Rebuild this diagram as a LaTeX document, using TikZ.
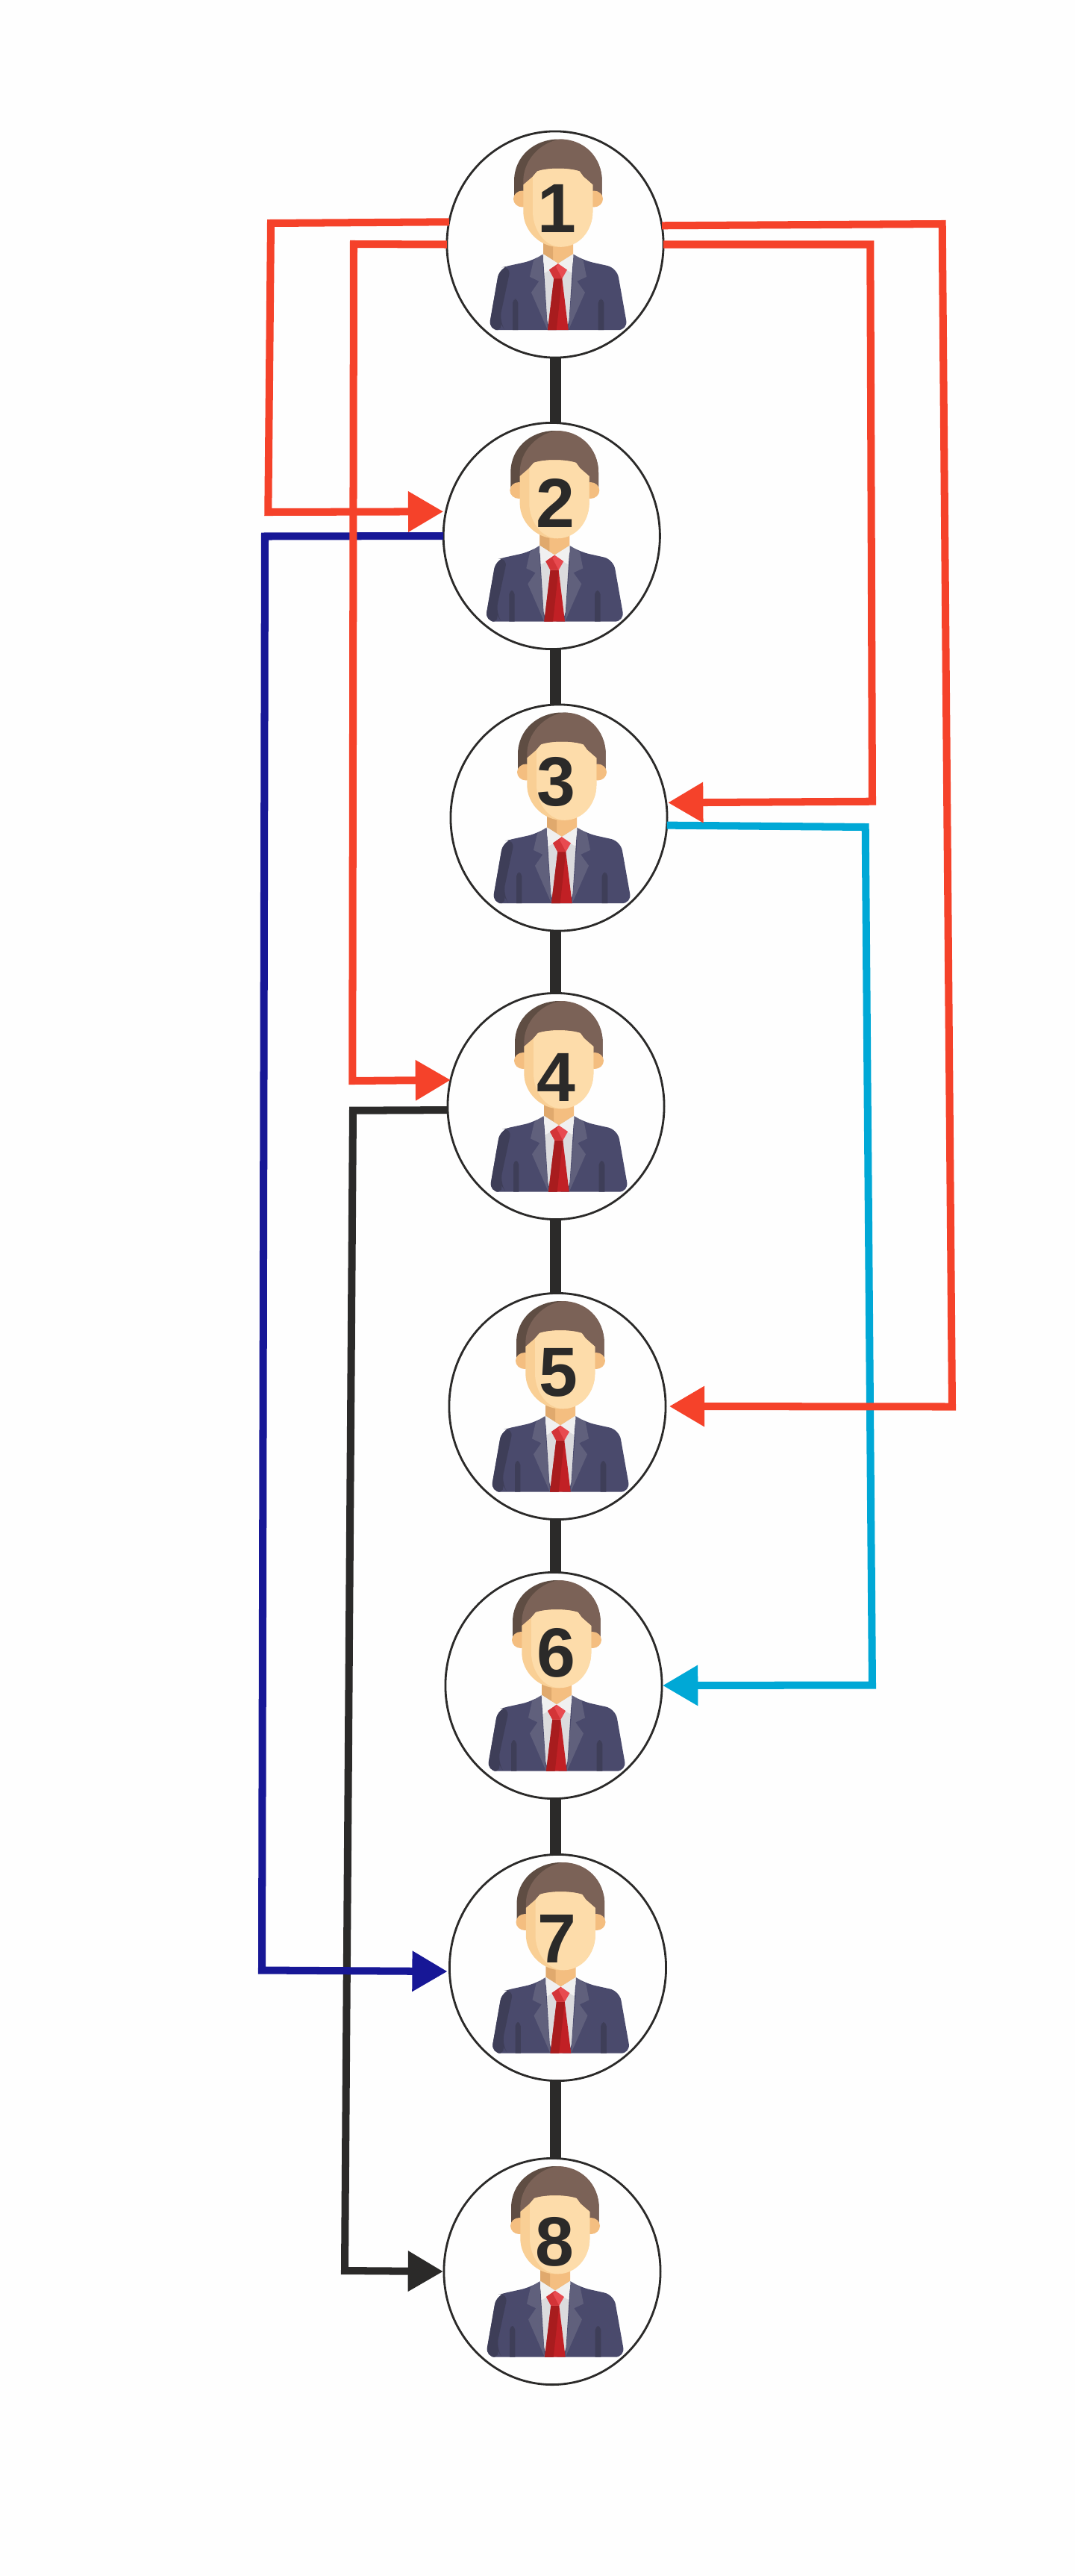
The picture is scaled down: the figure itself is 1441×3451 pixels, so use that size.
\documentclass[tikz,border=0pt]{standalone}
\usepackage{fontspec}
\setmainfont{Liberation Sans}
\usepackage{tikz}
\usetikzlibrary{arrows.meta, calc, shapes.geometric}
\definecolor{inkblack}{HTML}{2B2A29}
\definecolor{linkred}{HTML}{F5422A}
\definecolor{linknavy}{HTML}{171796}
\definecolor{linkcyan}{HTML}{00A8D6}
\definecolor{hairmain}{HTML}{7B6257}
\definecolor{hairdark}{HTML}{5F4D43}
\definecolor{skinmain}{HTML}{FDDCAA}
\definecolor{skinshade}{HTML}{F9CF95}
\definecolor{neckmain}{HTML}{F4BE80}
\definecolor{neckdark}{HTML}{E0A96D}
\definecolor{shirtmain}{HTML}{DBDBDD}
\definecolor{shirtlight}{HTML}{F0F0F0}
\definecolor{jacketmain}{HTML}{4A4A6C}
\definecolor{jacketdark}{HTML}{3E3E58}
\definecolor{lapelmain}{HTML}{60607C}
\definecolor{tiemain}{HTML}{C12025}
\definecolor{tiedark}{HTML}{A81C1E}
\definecolor{knotmain}{HTML}{E84A50}
\definecolor{knotdark}{HTML}{D33438}
\tikzset{
  member/.style={
    draw=inkblack,
    ellipse,
    line width=0.8pt,
    minimum width=2.9cm,
    minimum height=3.03cm,
    inner sep=0pt,
    outer sep=0pt
  },
  numeral/.style={
    inner sep=0pt,
    text=inkblack,
    font=\fontsize{26.5}{26.5}\selectfont\bfseries
  },
  spine/.style={
    draw=inkblack,
    line width=4.3pt
  },
  link/.style={
    line width=2.85pt,
    -{Triangle[length=13.4pt,width=14.8pt]}
  },
  redlink/.style={link, draw=linkred},
  navylink/.style={link, draw=linknavy},
  cyanlink/.style={link, draw=linkcyan},
  blacklink/.style={link, draw=inkblack},
  pics/person/.style={
    code={
      \fill[hairdark] (-55,-65) -- (-55,-85) .. controls (-55,-118) and (-28,-141) .. (4.3,-141)
        .. controls (36,-141) and (62.7,-118) .. (62.7,-85) -- (62.7,-65) -- cycle;
      \fill[hairmain] (-42.7,-65) -- (-42.7,-85) .. controls (-42.7,-113) and (-20,-137) .. (7,-141)
        .. controls (38,-141) and (62.7,-118) .. (62.7,-85) -- (62.7,-65) -- cycle;
      \fill[neckmain] (-44,-61) ellipse [x radius=12, y radius=11];
      \fill[neckmain] (52,-61) ellipse [x radius=12, y radius=11];
      \fill[neckmain] (-16,-5) -- (24,-5) -- (24,13) -- (4,25.7) -- (-16,13) -- cycle;
      \fill[neckdark] (-16,-5) -- (-3,-5) -- (-3,21) -- (-16,13) -- cycle;
      \fill[shirtmain] (-15.7,13) -- (4,25.7) -- (24,13) -- (24,39) -- (17.7,114.7) -- (-10,114.7) -- (-15.7,39) -- cycle;
      \fill[shirtlight] (-15.7,13) -- (4,25.7) -- (24,13) -- (24,39) -- (4,28) -- (-15.7,39) -- cycle;
      \fill[jacketmain, rounded corners=3.7pt] (-16.3,13) -- (-29,21.3) -- (-74.7,31.3) -- (-89.3,114.7)
        -- (97.5,114.7) -- (82.7,31.3) -- (37.7,21.3) -- (24.3,13) -- (17.7,114.7) -- (-10,114.7) -- cycle;
      \fill[jacketdark, rounded corners=3.7pt] (-59,28.3) -- (-74.7,31.3) -- (-89.3,114.7) -- (-67.3,114.7) -- (-75,103) -- cycle;
      \fill[jacketdark, rounded corners=1.5pt] (-57,114.7) -- (-57,73) -- (-49.7,73) [sharp corners] -- (-49.7,114.7) -- cycle;
      \fill[jacketdark, rounded corners=1.5pt] (57.7,114.7) -- (57.7,73) -- (65.3,73) [sharp corners] -- (65.3,114.7) -- cycle;
      \fill[lapelmain] (-16.3,13) -- (-29,21.3) -- (-34,43.3) -- (-21.7,49.3) -- (-32,64.3) -- (-10,114.7) -- (-15.7,39) -- cycle;
      \fill[lapelmain] (24.3,13) -- (37.7,21.3) -- (42,43.3) -- (29.3,49.3) -- (40,64.3) -- (17.7,114.7) -- (24,39) -- cycle;
      \fill[tiemain] (-1.7,45.7) -- (9.3,45.7) -- (17.7,114.7) -- (-10,114.7) -- cycle;
      \fill[tiedark] (-1.7,45.7) -- (9.3,45.7) -- (1.7,114.7) -- (-10,114.7) -- cycle;
      \fill[knotmain] (4,25.7) -- (16,34) -- (9.3,45.7) -- (-1.7,45.7) -- (-8,34) -- cycle;
      \fill[knotdark] (4,25.7) -- (-8,34) -- (-1.7,45.7) -- (9.3,45.7) -- (1,30) -- cycle;
      \fill[skinshade] (-42.7,-80) -- (-30,-91) -- (-24,-98) .. controls (-10,-103) and (18,-103) .. (32.7,-98)
        -- (37.7,-91) -- (50.3,-80) -- (50.3,-44) .. controls (50.3,-18) and (30,3.3) .. (4,3.3)
        .. controls (-20,3.3) and (-42.7,-18) .. (-42.7,-44) -- cycle;
      \fill[skinmain] (-30,-91) -- (-24,-98) .. controls (-10,-103) and (18,-103) .. (32.7,-98)
        -- (37.7,-91) -- (50.3,-80) -- (50.3,-44) .. controls (50.3,-18) and (32,3.3) .. (7.6,3.3)
        .. controls (-14,3) and (-30,-20) .. (-30,-44) -- cycle;
    }
  }
}
\begin{document}
\begin{tikzpicture}[x=0.01cm,y=-0.01cm]
  \fill[white!99.5!black] (0,0) rectangle (1441,3451);
  \useasboundingbox (0,0) rectangle (1441,3451);
  \coordinate (axis) at (744.5,0);

  \foreach \i/\cx/\cy/\dx/\dy in {
    1/744/327.5/2/-48.5, 2/739.3/718/5/-44, 3/749/1095.5/-4/-48,
    4/745/1482/0/-38.5, 5/747/1884/1/-45, 6/742/2258/3/-43.5,
    7/747.5/2636/-1.5/-39, 8/740/3043/3/-39.5} {
    \node[member] (p\i) at (\cx,\cy) {};
    \pic at (\cx,\cy) {person};
    \node[numeral] (n\i) at ($(p\i)+(\dx,\dy)$) {\i};
  }

  \foreach \a/\b in {1/2,2/3,3/4,4/5,5/6,6/7,7/8}
    \draw[spine] (axis |- p\a.south) -- (axis |- p\b.north);

  \draw[blacklink, shorten >=0.3pt] (p4.182.3) -- (473,1487.7) -- (462,3042) -- (p8.west);
  \draw[navylink, shorten >=0.85pt] (p2.west) -- (355,718.5) -- (351,2639.5) -- (p7.182);
  \draw[cyanlink, shorten >=0.3pt] (p3.-4.9) -- (1159.7,1108) -- (1169,2257.5) -- (p6.east);
  \draw[redlink, shorten >=1pt] (p1.168.7) -- (363,299) -- (359.3,686) -- (p2.167.6);
  \draw[redlink, shorten >=0.7pt] (p1.east) -- (1166.3,327.5) -- (1169,1073.7) -- (p3.8.6);
  \draw[redlink, shorten >=1.4pt] (p1.10.9) -- (1262.7,300) -- (1276,1884.5) -- (p5.east);
  \draw[redlink] (p1.west) -- (474,327) -- (472.3,1448) -- (p4.166.9);
\end{tikzpicture}
\end{document}
